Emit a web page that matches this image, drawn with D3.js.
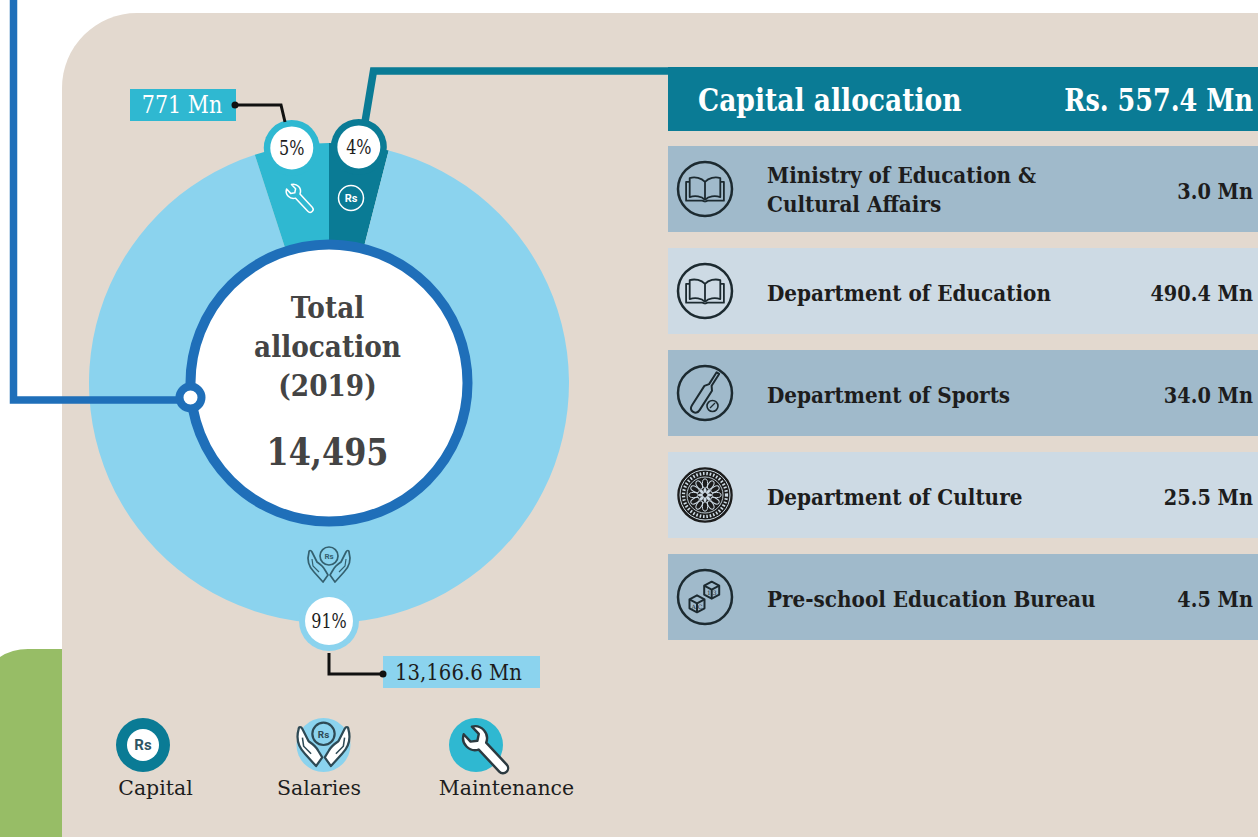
<!DOCTYPE html>
<html>
<head>
<meta charset="utf-8">
<title>Total allocation 2019</title>
<script src="https://cdn.jsdelivr.net/npm/d3@7"></script>
<style>
	html, body { margin: 0; padding: 0; background: #fff; overflow: hidden; }
	svg { display: block; }
	text { font-family: "DejaVu Serif", serif; }
	.bold { font-weight: 700; }
</style>
</head>
<body>
<svg id="chart" width="1258" height="837"></svg>
<script>
//values
var shareNames = ["Capital", "Salaries", "Maintenance"];
var sharePct = [4, 91, 5];
var totalLines = ["Total", "allocation", "(2019)"];
var totalValue = "14,495";
var maintenanceLabel = "771 Mn";
var salariesLabel = "13,166.6 Mn";
var capitalTitle = "Capital allocation";
var capitalTotal = "Rs. 557.4 Mn";
var deptNames = ["Ministry of Education &\nCultural Affairs", "Department of Education", "Department of Sports", "Department of Culture", "Pre-school Education Bureau"];
var deptValues = [3.0, 490.4, 34.0, 25.5, 4.5];
var deptIcons = ["book", "book", "bat", "mandala", "blocks"];

var C_CAPITAL = "#0a7b95", C_SALARIES = "#8bd3ee", C_MAINT = "#2fb8d1", C_RING = "#1f6fb9";
var C_PANEL = "#e3d9cf", C_DARK = "#1d1d1d", C_ICON = "#1c2a30";

var svg = d3.select("#chart");

//DejaVu is wider than the original slab face, so each text is narrowed with a horizontal scale
function label(parent, str, x, y, size, opts) {
	opts = opts || {};
	return parent.append("text")
		.attr("transform", "translate(" + x + "," + y + ") scale(" + (opts.ratio || 0.86) + ",1)")
		.attr("font-size", size)
		.attr("text-anchor", opts.anchor || "start")
		.attr("fill", opts.fill || C_DARK)
		.attr("class", opts.bold ? "bold" : null)
		.text(str);
}

// background
svg.append("path")
	.attr("d", "M62,837 V88 A75,75 0 0 1 137,13 H1258 V837 Z")
	.attr("fill", C_PANEL);
svg.append("path")
	.attr("d", "M0,657 Q12,649 28,649 H62 V837 H0 Z")
	.attr("fill", "#97bd66");

// donut
var cx = 329, cy = 383;
var donut = svg.append("g").attr("transform", "translate(" + cx + "," + cy + ")");
var colors = d3.scaleOrdinal().domain(shareNames).range([C_CAPITAL, C_SALARIES, C_MAINT]);

var pie = d3.pie().sort(null).value(function(d) { return d; });
var slices = pie(sharePct);
var arc = d3.arc().innerRadius(130).outerRadius(240);

donut.selectAll("path.slice")
	.data(slices)
	.enter().append("path")
	.attr("class", "slice")
	.attr("d", arc)
	.attr("fill", function(d, i) { return colors(shareNames[i]); });

//salaries is drawn big but its knob sits dead bottom
function knobPos(d, i) {
	var a = i == 1 ? Math.PI : (d.startAngle + d.endAngle) / 2;
	return d3.pointRadial(a, 238);
}

var knobs = donut.selectAll("g.knob")
	.data(slices)
	.enter().append("g")
	.attr("class", "knob")
	.attr("transform", function(d, i) { return "translate(" + knobPos(d, i) + ")"; });
knobs.append("circle")
	.attr("r", function(d, i) { return i == 1 ? 30 : 28; })
	.attr("fill", function(d, i) { return colors(shareNames[i]); });
knobs.append("circle")
	.attr("r", function(d, i) { return i == 1 ? 24 : 21.5; })
	.attr("fill", "#fff");
knobs.append("text")
	.attr("text-anchor", "middle")
	.attr("transform", "translate(0,7) scale(0.8,1)")
	.attr("font-size", 20)
	.attr("fill", C_DARK)
	.text(function(d, i) { return sharePct[i] + "%"; });

// connectors
var line = d3.line();
svg.append("path")
	.attr("d", line([[13.5, 0], [13.5, 400], [190, 400]]))
	.attr("fill", "none")
	.attr("stroke", C_RING)
	.attr("stroke-width", 7.5);
svg.append("path")
	.attr("d", line([[365, 122], [373.5, 71], [668, 71]]))
	.attr("fill", "none")
	.attr("stroke", C_CAPITAL)
	.attr("stroke-width", 7.5);

// centre
svg.append("circle")
	.attr("cx", cx).attr("cy", cy).attr("r", 138.5)
	.attr("fill", "#fff")
	.attr("stroke", C_RING)
	.attr("stroke-width", 10);
svg.append("circle")
	.attr("cx", 190.5).attr("cy", 397.5).attr("r", 11)
	.attr("fill", "#fff")
	.attr("stroke", C_RING)
	.attr("stroke-width", 8);

var totalY = [318, 357, 396];
totalLines.forEach(function(s, i) {
	label(svg, s, 327.5, totalY[i], 30, {anchor: "middle", bold: true, fill: "#444", ratio: 0.88});
});
label(svg, totalValue, 327.5, 465, 38, {anchor: "middle", bold: true, fill: "#444", ratio: 0.84});

// callouts
svg.append("rect").attr("x", 130).attr("y", 89).attr("width", 106).attr("height", 32).attr("fill", C_MAINT);
label(svg, maintenanceLabel, 182, 113, 24, {anchor: "middle", fill: "#fff", ratio: 0.86});
svg.append("path")
	.attr("d", line([[235, 105], [281, 105], [285, 122]]))
	.attr("fill", "none").attr("stroke", "#111").attr("stroke-width", 3);
svg.append("circle").attr("cx", 235).attr("cy", 105).attr("r", 3.5).attr("fill", "#111");

svg.append("rect").attr("x", 383).attr("y", 656).attr("width", 157).attr("height", 32).attr("fill", C_SALARIES);
label(svg, salariesLabel, 395, 680, 23, {ratio: 0.857});
svg.append("path")
	.attr("d", line([[329, 653], [329, 674], [383, 674]]))
	.attr("fill", "none").attr("stroke", "#111").attr("stroke-width", 3);
svg.append("circle").attr("cx", 383).attr("cy", 674).attr("r", 3.5).attr("fill", "#111");

// small icons
var WRENCH = "M-3.8,-5 A9,9 0 0 1 -4.2,-21 L-4.2,-13.5 L0,-10.5 L4.2,-13.5 L4.2,-21 A9,9 0 0 1 3.8,-5 L3.8,17.5 A3.8,3.8 0 0 1 -3.8,17.5 Z";
var HAND = "M-20,-13 C-22,-6 -21,1 -15,7 L-6,17 L-1,10 L-4,5 C-6,1 -9,-1 -12,-3 L-17,-13 C-18,-15 -20,-15 -20,-13 Z";

function wrench(parent, x, y, scale, fill, stroke, sw) {
	parent.append("path")
		.attr("d", WRENCH)
		.attr("transform", "translate(" + x + "," + y + ") rotate(-43) scale(" + scale + ")")
		.attr("fill", fill)
		.attr("stroke", stroke)
		.attr("stroke-width", sw)
		.attr("stroke-linejoin", "round");
}

function hands(parent, x, y, scale, fill, stroke, sw) {
	var g = parent.append("g").attr("transform", "translate(" + x + "," + y + ") scale(" + scale + ")");
	[1, -1].forEach(function(k) {
		var h = g.append("g").attr("transform", "scale(" + k + ",1)");
		h.append("path")
			.attr("d", HAND)
			.attr("fill", fill)
			.attr("stroke", stroke)
			.attr("stroke-width", sw)
			.attr("stroke-linejoin", "round");
		h.append("path")
			.attr("d", "M-17,-6 L-16,1 L-10,7")
			.attr("fill", "none")
			.attr("stroke", stroke)
			.attr("stroke-width", sw * 0.7);
	});
	g.append("circle").attr("cy", -9).attr("r", 9).attr("fill", "none").attr("stroke", stroke).attr("stroke-width", sw);
	g.append("text")
		.attr("y", -6).attr("text-anchor", "middle")
		.attr("font-size", 8).attr("font-weight", 700)
		.attr("style", "font-family:Roboto").attr("fill", stroke)
		.text("Rs");
}

function rupee(parent, x, y, r, stroke, fill, size, sw) {
	parent.append("circle").attr("cx", x).attr("cy", y).attr("r", r)
		.attr("fill", fill).attr("stroke", stroke).attr("stroke-width", sw);
	parent.append("text")
		.attr("x", x).attr("y", y + size * 0.36)
		.attr("text-anchor", "middle")
		.attr("font-size", size).attr("font-weight", 700)
		.attr("style", "font-family:Roboto")
		.attr("fill", stroke)
		.text("Rs");
}

wrench(svg, 300.5, 199, 0.8, "none", "#fff", 1.9);
rupee(svg, 351, 198, 12.5, "#fff", "none", 11, 1.5);
hands(svg, 329, 565, 1, "none", "#34606f", 1.7);

// legend
svg.append("circle").attr("cx", 143).attr("cy", 745).attr("r", 27).attr("fill", C_CAPITAL);
rupee(svg, 143, 745, 16, "#2e5563", "#fff", 15, 0);
svg.append("circle").attr("cx", 323.5).attr("cy", 745).attr("r", 27).attr("fill", C_SALARIES);
hands(svg, 323.5, 745, 1.24, "#fff", "#2e4a55", 1.8);
svg.append("circle").attr("cx", 476).attr("cy", 745).attr("r", 27).attr("fill", C_MAINT);
wrench(svg, 487, 751, 1.34, "#fff", "#2c3a40", 1.8);

var legendX = [155.5, 319, 506.5];
shareNames.forEach(function(s, i) {
	label(svg, s, legendX[i], 795, 21, {anchor: "middle", ratio: 0.975});
});

// capital table
svg.append("rect").attr("x", 668).attr("y", 67).attr("width", 590).attr("height", 64).attr("fill", C_CAPITAL);
label(svg, capitalTitle, 698, 111, 32, {bold: true, fill: "#fff", ratio: 0.83});
label(svg, capitalTotal, 1253, 111, 31, {anchor: "end", bold: true, fill: "#fff", ratio: 0.823});

var y = d3.scaleBand()
	.domain(deptNames)
	.range([146, 640])
	.paddingInner(0.157);

var rows = svg.selectAll("g.row")
	.data(deptNames)
	.enter().append("g")
	.attr("class", "row")
	.attr("transform", function(d) { return "translate(668," + y(d) + ")"; });

rows.append("rect")
	.attr("width", 590)
	.attr("height", y.bandwidth())
	.attr("fill", function(d, i) { return i % 2 ? "#cddae4" : "#a0bacb"; });

rows.each(function(d, i) {
	var row = d3.select(this);
	var mid = y.bandwidth() / 2;
	var parts = d.split("\n");
	parts.forEach(function(s, k) {
		var base = parts.length > 1 ? mid - 6 + k * 29 : mid + 10;
		label(row, s, 99, base, 23, {bold: true, fill: "#1d1d1d", ratio: 0.87});
	});
	label(row, deptValues[i].toFixed(1) + " Mn", 585, mid + 10, 23, {anchor: "end", bold: true, fill: "#1d1d1d", ratio: 0.84});
	drawIcon(row.append("g").attr("transform", "translate(37," + mid + ")"), deptIcons[i]);
});

function drawIcon(g, kind) {
	if (kind != "mandala") {
		g.append("circle").attr("r", 27).attr("fill", "none").attr("stroke", C_ICON).attr("stroke-width", 2.5);
	}
	var lines = g.append("g")
		.attr("fill", "none")
		.attr("stroke", C_ICON)
		.attr("stroke-width", 2)
		.attr("stroke-linejoin", "round");
	if (kind == "book") {
		var bk = lines.append("g").attr("transform", "scale(0.9)");
		[1, -1].forEach(function(k) {
			var p = bk.append("g").attr("transform", "scale(" + k + ",1)");
			p.append("path").attr("d", "M0,-8 C-4,-12 -11,-14 -17,-12 L-17,9 C-11,7 -4,8 0,12");
			p.append("path").attr("d", "M-17,-8 H-21 V13 H-3 L0,14");
		});
		bk.append("path").attr("d", "M0,-8 V12");
	}
	if (kind == "bat") {
		var b = lines.append("g").attr("transform", "translate(0.5,-0.5) rotate(32.6)");
		b.append("path").attr("d", "M-4.5,-5 L-1.5,-9 V-23 H1.5 V-9 L4.5,-5 V18 Q4.5,23 0,23 Q-4.5,23 -4.5,18 Z");
		lines.append("circle").attr("cx", 7.5).attr("cy", 13).attr("r", 5.5).attr("stroke-width", 1.6);
		lines.append("path").attr("d", "M5,15 L10,10").attr("stroke-width", 1.2);
	}
	if (kind == "blocks") {
		[[6.7, -6.8, "1 3"], [-8, 6.8, "A C"]].forEach(function(c) {
			var q = lines.append("g").attr("transform", "translate(" + c[0] + "," + c[1] + ")");
			q.append("path").attr("d", "M0,-8.5 L7.5,-4.5 V4.5 L0,8.5 L-7.5,4.5 V-4.5 Z");
			q.append("path").attr("d", "M-7.5,-4.5 L0,-0.5 L7.5,-4.5 M0,-0.5 V8.5");
			q.append("text")
				.attr("y", 5).attr("text-anchor", "middle")
				.attr("font-size", 6).attr("stroke", "none").attr("fill", C_ICON)
				.text(c[2]);
		});
	}
	if (kind == "mandala") {
		g.append("circle").attr("r", 27).attr("fill", "#1c1c1c").attr("stroke", "#1c1c1c").attr("stroke-width", 1.5);
		g.append("circle").attr("r", 25).attr("fill", "none").attr("stroke", "#cddae4").attr("stroke-width", 1);
		g.append("circle").attr("r", 21.5).attr("fill", "none").attr("stroke", "#cddae4").attr("stroke-width", 3.2).attr("stroke-dasharray", "1.6 1.8");
		g.append("circle").attr("r", 18).attr("fill", "none").attr("stroke", "#cddae4").attr("stroke-width", 0.9);
		d3.range(12).forEach(function(i) {
			g.append("ellipse")
				.attr("cy", -11.5)
				.attr("rx", 2.6).attr("ry", 4.6)
				.attr("transform", "rotate(" + i * 30 + ")")
				.attr("fill", "none").attr("stroke", "#cddae4").attr("stroke-width", 1);
		});
		d3.range(8).forEach(function(i) {
			g.append("ellipse")
				.attr("cy", -4.4)
				.attr("rx", 1.5).attr("ry", 2.5)
				.attr("transform", "rotate(" + i * 45 + ")")
				.attr("fill", "#cddae4");
		});
	}
}
</script>
</body>
</html>
